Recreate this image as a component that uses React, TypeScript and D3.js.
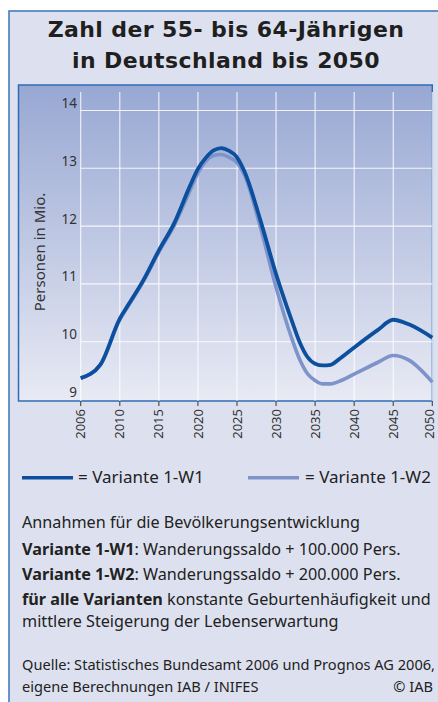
import React from 'react'
import * as d3 from 'd3'

// Jahre (Stützstellen) und Werte in Mio. Personen
const years = [2006, 2008, 2010, 2011, 2013, 2015, 2017, 2019, 2020, 2021, 2022, 2023, 2024, 2025, 2026, 2028, 2030, 2032, 2033, 2034, 2035, 2036, 2037, 2038, 2040, 2043, 2045, 2047, 2050]
const variantW1 = [9.37, 9.6, 10.4, 10.62, 11.06, 11.58, 12.06, 12.7, 12.99, 13.18, 13.31, 13.35, 13.3, 13.19, 12.93, 12.1, 11.17, 10.37, 10.0, 9.74, 9.62, 9.59, 9.6, 9.69, 9.9, 10.2, 10.38, 10.3, 10.07]
const variantW2 = [9.37, 9.6, 10.38, 10.6, 11.04, 11.55, 12.02, 12.62, 12.92, 13.12, 13.22, 13.24, 13.19, 13.1, 12.87, 11.98, 10.94, 10.06, 9.7, 9.45, 9.33, 9.27, 9.27, 9.31, 9.44, 9.64, 9.76, 9.68, 9.3]
const tickYears = [2006, 2010, 2015, 2020, 2025, 2030, 2035, 2040, 2045, 2050]
const yTicks = [9, 10, 11, 12, 13, 14]
const seriesNames = ['Variante 1-W1', 'Variante 1-W2']

const width = 438
const height = 702
const font = '"Noto Sans", Lato, sans-serif'
const titleFont = '"DejaVu Sans", sans-serif'

export default function App() {
  // 2006-2010 hat im Original denselben Abstand wie die 5-Jahres-Schritte
  const x = d3.scaleLinear().domain([2006, 2010, 2050]).range([80.7, 119.8, 432.3])
  const y = d3.scaleLinear().domain([9, 14]).range([399.5, 110.5])

  const line = d3.line<number>()
    .x((_, i) => x(years[i]))
    .y(d => y(d))
    .curve(d3.curveMonotoneX)

  const plot = { left: 18.5, top: 85, right: 432.3, bottom: 401 }

  return (
    <div style={{ position: 'absolute', left: 0, top: 0 }}>
      <svg width={width} height={height} style={{ display: 'block' }} fontFamily={font}>
        <defs>
          <linearGradient id="plotBg" x1="0" y1="0" x2="0" y2="1">
            <stop offset="0%" stopColor="#98a8d3" />
            <stop offset="100%" stopColor="#e8eaf4" />
          </linearGradient>
        </defs>
        <rect x={0} y={0} width={width} height={height} fill="#fff" />
        <rect x={9} y={11} width={440} height={700} fill="#dde1ef" stroke="#3b73b9" strokeWidth={1.5} />

        <g fontFamily={titleFont} fontSize={22} fontWeight="bold" fill="#1f1f1f" textAnchor="middle" letterSpacing={0.4}>
          <text x={226} y={37}>Zahl der 55- bis 64-Jährigen</text>
          <text x={226} y={68}>in Deutschland bis 2050</text>
        </g>

        <rect x={plot.left} y={plot.top} width={plot.right - plot.left} height={plot.bottom - plot.top}
          fill="url(#plotBg)" stroke="#2f6cb5" strokeWidth={1.5} />

        {/* Gitter */}
        {tickYears.map(t => (
          <line key={'v' + t} x1={x(t)} x2={x(t)} y1={92} y2={plot.bottom} stroke="#fff" strokeOpacity={0.85} strokeWidth={1.1} />
        ))}
        {yTicks.filter(t => t > 9).map(t => (
          <line key={'h' + t} x1={x(2006)} x2={plot.right} y1={y(t)} y2={y(t)} stroke="#fff" strokeOpacity={0.85} strokeWidth={1.1} />
        ))}

        {yTicks.map(t => (
          <text key={'yl' + t} x={77} y={y(t) - 2.5} textAnchor="end" fontSize={13.5} fill="#333">{t}</text>
        ))}
        <text transform="translate(45,252) rotate(-90)" textAnchor="middle" fontSize={15} fill="#333">
          Personen in Mio.
        </text>

        {/* Linien */}
        <path d={line(variantW2) ?? ''} fill="none" stroke="#7f93cb" strokeWidth={3.6} strokeLinejoin="round" />
        <path d={line(variantW1) ?? ''} fill="none" stroke="#0b4f9e" strokeWidth={3.8} strokeLinejoin="round" />

        {/* x-Achse */}
        {tickYears.map(t => (
          <g key={'xt' + t}>
            <line x1={x(t)} x2={x(t)} y1={plot.bottom} y2={406} stroke="#444" strokeWidth={1.1} />
            <text transform={`translate(${Math.min(x(t) + 4.6, 433.5)},409) rotate(-90)`} textAnchor="end" fontSize={13} fill="#333">{t}</text>
          </g>
        ))}

        {/* Legende */}
        <line x1={22} x2={73} y1={477.7} y2={477.7} stroke="#0b4f9e" strokeWidth={3.6} />
        <text x={78} y={483} fontSize={17} fill="#222">= {seriesNames[0]}</text>
        <line x1={248} x2={299} y1={477.7} y2={477.7} stroke="#7f93cb" strokeWidth={3.6} />
        <text x={305} y={483} fontSize={17} fill="#222">= {seriesNames[1]}</text>

        {/* Erläuterungen */}
        <g fontSize={16.2} fill="#222">
          <text x={22} y={528}>Annahmen für die Bevölkerungsentwicklung</text>
          <text x={22} y={555}><tspan fontWeight="bold">{seriesNames[0]}</tspan>: Wanderungssaldo + 100.000 Pers.</text>
          <text x={22} y={580}><tspan fontWeight="bold">{seriesNames[1]}</tspan>: Wanderungssaldo + 200.000 Pers.</text>
          <text x={22} y={605}><tspan fontWeight="bold">für alle Varianten</tspan> konstante Geburtenhäufigkeit und</text>
          <text x={22} y={627}>mittlere Steigerung der Lebenserwartung</text>
        </g>
        <g fontSize={14.6} fill="#222">
          <text x={22} y={670}>Quelle: Statistisches Bundesamt 2006 und Prognos AG 2006,</text>
          <text x={22} y={692}>eigene Berechnungen IAB / INIFES</text>
          <text x={433} y={692} textAnchor="end">© IAB</text>
        </g>
      </svg>
    </div>
  )
}
